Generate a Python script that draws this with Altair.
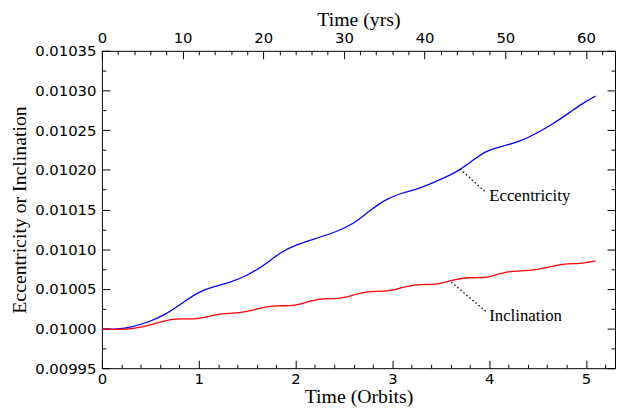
import altair as alt
import pandas as pd

# ---- data ----
t_ecc = [0.00, 0.17, 0.31, 0.48, 0.65, 0.82, 0.99, 1.16, 1.33, 1.50, 1.67, 1.84,
         2.01, 2.24, 2.42, 2.59, 2.76, 2.93, 3.10, 3.27, 3.44, 3.61, 3.71, 3.82,
         3.98, 4.15, 4.33, 4.49, 4.66, 4.84, 5.00, 5.10]
ecc = [0.0099992, 0.0099988, 0.0100020, 0.0100080, 0.0100170, 0.0100310, 0.0100460,
       0.0100530, 0.0100580, 0.0100670, 0.0100790, 0.0100960, 0.0101060, 0.0101146,
       0.0101220, 0.0101310, 0.0101480, 0.0101630, 0.0101710, 0.0101760, 0.0101846,
       0.0101940, 0.0102010, 0.0102110, 0.0102250, 0.0102300, 0.0102363, 0.0102460,
       0.0102580, 0.0102730, 0.0102866, 0.0102929]

t_inc = [0.00, 0.24, 0.38, 0.55, 0.72, 0.85, 0.99, 1.09, 1.23, 1.40, 1.50, 1.67,
         1.81, 1.94, 2.04, 2.24, 2.42, 2.49, 2.72, 2.93, 3.00, 3.23, 3.44, 3.51,
         3.64, 3.78, 3.95, 4.02, 4.22, 4.46, 4.56, 4.77, 4.94, 5.10]
inc = [0.0099992, 0.0099988, 0.0100008, 0.0100062, 0.0100120, 0.0100122, 0.0100120,
       0.0100146, 0.0100190, 0.0100196, 0.0100210, 0.0100270, 0.0100290, 0.0100284,
       0.0100300, 0.0100380, 0.0100375, 0.0100380, 0.0100470, 0.0100470, 0.0100480,
       0.0100560, 0.0100554, 0.0100570, 0.0100616, 0.0100646, 0.0100638, 0.0100660,
       0.0100730, 0.0100730, 0.0100760, 0.0100820, 0.0100813, 0.0100854]

ann_label = ["Eccentricity", "Inclination"]
ann_t = [3.70, 3.61]          # point on the curve
ann_v = [0.0102010, 0.0100584]
ann_t2 = [3.965, 3.965]       # end of dotted pointer
ann_v2 = [0.0101716, 0.0100216]
ann_text_t = [4.00, 4.00]     # text anchor
ann_text_v = [0.0101666, 0.0100159]

x_ticks = [round(0.2 * k, 1) for k in range(27)]
y_ticks = [round(0.00995 + 0.000025 * k, 7) for k in range(17)]
yr_ticks = list(range(0, 64, 2))

ORBIT_YRS = 12.0
X_MAX = 5.3
Y_DOM = [0.00995, 0.01035]

# ---- tables ----
lines_df = pd.concat([
    pd.DataFrame({"t": t_ecc, "v": ecc, "series": "Eccentricity"}),
    pd.DataFrame({"t": t_inc, "v": inc, "series": "Inclination"}),
])
rule_df = pd.DataFrame({"t": ann_t, "v": ann_v, "t2": ann_t2, "v2": ann_v2})
text_df = pd.DataFrame({"t": ann_text_t, "v": ann_text_v, "label": ann_label})
twin_df = pd.DataFrame({"t": t_ecc, "v": ecc})

TICK_FONT = "DejaVu Sans"
SERIF = "Liberation Serif"

x_major = "abs(datum.value - round(datum.value)) < 1e-6"
y_major = "abs(datum.value*20000 - round(datum.value*20000)) < 1e-3"
yr_major = "datum.value % 10 === 0"


def X():
    return alt.X(
        "t:Q",
        scale=alt.Scale(domain=[0, X_MAX], nice=False, zero=False),
        axis=alt.Axis(
            orient="bottom", values=x_ticks, title="Time (Orbits)",
            labelExpr=f"({x_major}) ? format(datum.value, 'd') : ''",
            tickSize={"expr": f"({x_major}) ? -8 : -4"},
            labelPadding=11, titlePadding=-3, labelFlush=False, labelOverlap=False,
        ),
    )


def Y():
    return alt.Y(
        "v:Q",
        scale=alt.Scale(domain=Y_DOM, nice=False, zero=False),
        axis=alt.Axis(
            orient="left", values=y_ticks, title="Eccentricity or Inclination",
            labelExpr=f"({y_major}) ? format(datum.value, '.5f') : ''",
            tickSize={"expr": f"({y_major}) ? -8 : -4"},
            labelPadding=14, titlePadding=5, labelFlush=False, labelOverlap=False,
        ),
    )


lines = alt.Chart(lines_df).mark_line(strokeWidth=1.3, interpolate="basis").encode(
    x=X(), y=Y(),
    color=alt.Color("series:N", scale=alt.Scale(domain=["Eccentricity", "Inclination"],
                                                range=["#0000ff", "#ff0000"]), legend=None),
)

pointers = alt.Chart(rule_df).mark_rule(
    color="black", strokeWidth=1.4, strokeDash=[1.4, 2.6]
).encode(x=X(), y=Y(), x2="t2:Q", y2="v2:Q")

labels = alt.Chart(text_df).mark_text(
    align="left", baseline="middle", font=SERIF, fontSize=17, color="black"
).encode(x=X(), y=Y(), text="label:N")

inner = alt.layer(lines, pointers, labels)

twin = alt.Chart(twin_df).transform_calculate(yrs=f"datum.t * {ORBIT_YRS}").mark_point(
    opacity=0
).encode(
    x=alt.X("yrs:Q", scale=alt.Scale(domain=[0, X_MAX * ORBIT_YRS], nice=False, zero=False),
            axis=alt.Axis(orient="top", values=yr_ticks, title="Time (yrs)",
                          labelExpr=f"({yr_major}) ? format(datum.value, 'd') : ''",
                          tickSize={"expr": f"({yr_major}) ? -8 : -4"},
                          labelPadding=13, titlePadding=-2, labelFlush=False,
                          labelOverlap=False)),
    y=alt.Y("v:Q", scale=alt.Scale(domain=Y_DOM, nice=False, zero=False),
            axis=alt.Axis(orient="right", values=y_ticks, labels=False, title=None,
                          tickSize={"expr": f"({y_major}) ? -8 : -4"})),
)

chart = alt.layer(inner, twin).resolve_scale(
    x="independent", y="independent"
).properties(
    width=519, height=321,
    autosize=alt.AutoSizeParams(type="none"),
    padding={"left": 95, "top": 41, "right": 2, "bottom": 42},
).configure_view(
    stroke="black", strokeWidth=1
).configure_axis(
    domain=False, grid=False, tickColor="black", tickWidth=1,
    labelFont=TICK_FONT, labelFontSize=15, labelColor="black",
    titleFont=SERIF, titleFontSize=20, titleFontWeight="normal", titleColor="black",
)

chart.save("out.html", embed_options={"renderer": "svg", "actions": False})
